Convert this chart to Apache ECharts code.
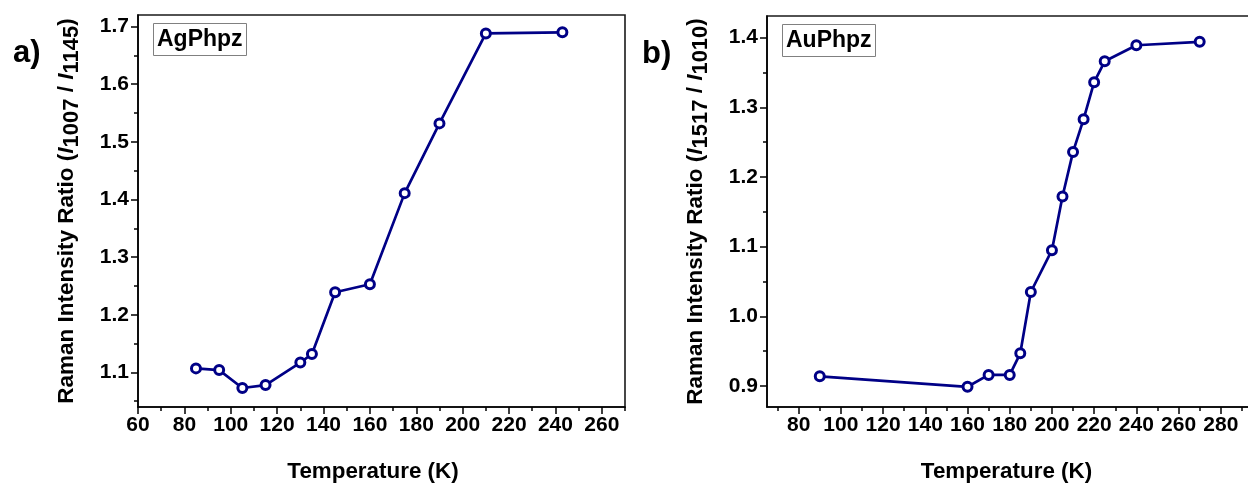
<!DOCTYPE html>
<html>
<head>
<meta charset="utf-8">
<script src="https://cdn.jsdelivr.net/npm/echarts@6/dist/echarts.min.js"></script>
<style>
  html, body { margin: 0; padding: 0; background: #ffffff; }
  #chart { width: 1248px; height: 483px; }
</style>
</head>
<body>
<div id="chart"></div>
<script>
// Panel a) AgPhpz: Raman intensity ratio I1007 / I1145 versus temperature
const agTemp  = [85, 95, 105, 115, 130, 135, 145, 160, 175, 190, 210, 243];
const agRatio = [1.107, 1.104, 1.073, 1.078, 1.117, 1.132, 1.239, 1.253, 1.411, 1.532, 1.688, 1.690];

// Panel b) AuPhpz: Raman intensity ratio I1517 / I1010 versus temperature
const auTemp  = [90, 160, 170, 180, 185, 190, 200, 205, 210, 215, 220, 225, 240, 270];
const auRatio = [0.914, 0.899, 0.916, 0.916, 0.947, 1.035, 1.095, 1.172, 1.236, 1.283, 1.336, 1.366, 1.389, 1.394];

// Tick positions
const agTempTicks  = [60, 80, 100, 120, 140, 160, 180, 200, 220, 240, 260];
const agTempMinor  = [70, 90, 110, 130, 150, 170, 190, 210, 230, 250, 270];
const agRatioTicks = [1.1, 1.2, 1.3, 1.4, 1.5, 1.6, 1.7];
const agRatioMinor = [1.05, 1.15, 1.25, 1.35, 1.45, 1.55, 1.65];

const auTempTicks  = [80, 100, 120, 140, 160, 180, 200, 220, 240, 260, 280];
const auTempMinor  = [70, 90, 110, 130, 150, 170, 190, 210, 230, 250, 270, 290];
const auRatioTicks = [0.9, 1.0, 1.1, 1.2, 1.3, 1.4];
const auRatioMinor = [0.95, 1.05, 1.15, 1.25, 1.35];

const FONT = '"Liberation Sans", Arial, Helvetica, sans-serif';
const INK = '#000000';
const NAVY = '#000086';

function majorAxis(gridIndex, min, max, ticks, decimals, pos, name, nameGap, isY) {
  return {
    type: 'value', gridIndex: gridIndex, min: min, max: max, position: pos, offset: 0,
    name: name, nameLocation: 'middle', nameGap: nameGap,
    nameRotate: isY ? 90 : 0,
    nameTextStyle: {
      fontFamily: FONT, fontWeight: 'bold', fontSize: isY ? 22 : 22.4, color: INK,
      padding: isY ? 0 : [0, 17, 0, 0],
      rich: {
        n: { fontFamily: FONT, fontWeight: 'bold', fontSize: 22.5, color: INK },
        i: { fontFamily: FONT, fontWeight: 'bold', fontStyle: 'italic', fontSize: 22.5, color: INK },
        s: { fontFamily: FONT, fontWeight: 'bold', fontSize: 22, color: INK, padding: [10, 0, 0, 0] }
      }
    },
    axisLine: { show: true, onZero: false, lineStyle: { color: INK, width: 1.6 } },
    axisTick: { show: true, inside: false, length: 7, customValues: ticks, lineStyle: { color: INK, width: 1.5 } },
    minorTick: { show: false },
    axisLabel: {
      show: true, customValues: ticks, margin: isY ? 9 : 8,
      fontFamily: FONT, fontWeight: 'bold', fontSize: 21, color: INK,
      formatter: function (v) { return decimals ? Number(v).toFixed(decimals) : String(Math.round(v)); }
    },
    splitLine: { show: false }
  };
}

function minorAxis(gridIndex, min, max, ticks, pos) {
  return {
    type: 'value', gridIndex: gridIndex, min: min, max: max, position: pos, offset: 0,
    axisLine: { show: false, onZero: false },
    axisTick: { show: true, inside: false, length: 4, customValues: ticks, lineStyle: { color: INK, width: 1.5 } },
    axisLabel: { show: false },
    splitLine: { show: false }
  };
}

function pairs(xs, ys) {
  return xs.map(function (x, i) { return [x, ys[i]]; });
}

function lineSeries(xIdx, yIdx, data) {
  return {
    type: 'line', xAxisIndex: xIdx, yAxisIndex: yIdx, data: data,
    symbol: 'circle', symbolSize: 9, showAllSymbol: true,
    lineStyle: { color: NAVY, width: 2.7 },
    itemStyle: { color: '#ffffff', borderColor: NAVY, borderWidth: 3 },
    emphasis: { disabled: true },
    animation: false, z: 3
  };
}

function tag(text, left, top) {
  return {
    text: text, left: left, top: top, padding: [5, 4, 5, 4],
    borderColor: '#808080', borderWidth: 1, backgroundColor: '#ffffff',
    textStyle: { fontFamily: FONT, fontWeight: 'bold', fontSize: 23, color: INK }
  };
}

function panelLabel(text, left, top) {
  return {
    text: text, left: left, top: top, padding: 0,
    textStyle: { fontFamily: FONT, fontWeight: 'bold', fontSize: 31, color: INK }
  };
}

const chart = echarts.init(document.getElementById('chart'), null, { renderer: 'canvas' });

chart.setOption({
  backgroundColor: '#ffffff',
  animation: false,
  title: [
    panelLabel('a)', 13, 38),
    panelLabel('b)', 642, 39),
    tag('AgPhpz', 153, 23),
    tag('AuPhpz', 782, 24)
  ],
  grid: [
    { left: 138, top: 15, right: 623, bottom: 76, outerBoundsMode: 'none', containLabel: false,
      show: true, borderColor: '#1a1a1a', borderWidth: 1.6, backgroundColor: 'transparent' },
    { left: 767, top: 16, right: -15, bottom: 76, outerBoundsMode: 'none', containLabel: false,
      show: true, borderColor: '#1a1a1a', borderWidth: 1.6, backgroundColor: 'transparent' }
  ],
  xAxis: [
    majorAxis(0, 60, 270, agTempTicks, 0, 'bottom', 'Temperature (K)', 54, false),
    minorAxis(0, 60, 270, agTempMinor, 'bottom'),
    majorAxis(1, 65, 300, auTempTicks, 0, 'bottom', 'Temperature (K)', 54, false),
    minorAxis(1, 65, 300, auTempMinor, 'bottom')
  ],
  yAxis: [
    majorAxis(0, 1.04, 1.72, agRatioTicks, 1, 'left',
      '{n|Raman Intensity Ratio (}{i|I}{s|1007}{n| / }{i|I}{s|1145}{n|)}', 55, true),
    minorAxis(0, 1.04, 1.72, agRatioMinor, 'left'),
    majorAxis(1, 0.87, 1.431, auRatioTicks, 1, 'left',
      '{n|Raman Intensity Ratio (}{i|I}{s|1517}{n| / }{i|I}{s|1010}{n|)}', 55, true),
    minorAxis(1, 0.87, 1.431, auRatioMinor, 'left')
  ],
  series: [
    lineSeries(0, 0, pairs(agTemp, agRatio)),
    lineSeries(2, 2, pairs(auTemp, auRatio))
  ]
});
</script>
</body>
</html>
